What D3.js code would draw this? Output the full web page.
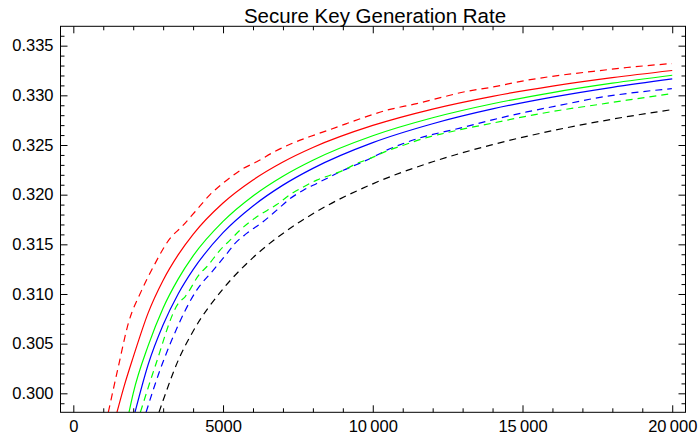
<!DOCTYPE html>
<html>
<head>
<meta charset="utf-8">
<script src="https://cdn.jsdelivr.net/npm/d3@7"></script>
<style>
  body { margin: 0; background: white; }
  text { font-family: "Liberation Sans", Arial, sans-serif; fill: #000; }
</style>
</head>
<body>
<div id="plot"></div>
<script>
// chart data

  var titleText = "Secure Key Generation Rate";

  var xMajorTicks = [0, 5000, 10000, 15000, 20000];
  var yMajorTicks = [0.300, 0.305, 0.310, 0.315, 0.320, 0.325, 0.330, 0.335];

  var redSolid = [[1450,0.29800],[1700,0.30075],[2000,0.30364],[2500,0.30810],[3000,0.31139],
      [3500,0.31394],[4000,0.31601],[5000,0.31916],[6000,0.32148],[7000,0.32329],[8000,0.32475],
      [10000,0.32697],[12000,0.32862],[14000,0.32990],[16000,0.33093],[18000,0.33178],[20000,0.33250]];

  var greenSolid = [[1860,0.29810],[2000,0.30000],[2500,0.30480],[3000,0.30860],[3500,0.31150],
      [4000,0.31384],[5000,0.31731],[6000,0.31987],[7000,0.32186],[8000,0.32347],[10000,0.32593],
      [12000,0.32774],[14000,0.32915],[16000,0.33028],[18000,0.33122],[20000,0.33202]];

  var blueSolid = [[2061,0.29810],[2500,0.30290],[3000,0.30690],[3500,0.31000],[4000,0.31245],
      [5000,0.31617],[6000,0.31886],[7000,0.32096],[8000,0.32265],[10000,0.32524],[12000,0.32714],
      [14000,0.32863],[16000,0.32982],[18000,0.33081],[20000,0.33165]];

  var redDashed = [[1169,0.29810],[1503,0.30268],[1837,0.30704],[2285,0.31039],[2672,0.31274],
      [3230,0.31560],[3621,0.31677],[4065,0.31828],[4566,0.32000],[5124,0.32146],[5678,0.32264],
      [6126,0.32331],[6700,0.32430],[7295,0.32515],[7906,0.32585],[8350,0.32632],[9132,0.32716],
      [9686,0.32776],[10467,0.32850],[11470,0.32917],[12358,0.32984],[12916,0.33026],[14028,0.33085],
      [15143,0.33152],[16256,0.33202],[17368,0.33242],[18483,0.33280],[19987,0.33320]];

  var greenDashed = [[2240,0.29810],[2729,0.30268],[3507,0.30905],[3731,0.30972],[4232,0.31207],
      [4456,0.31274],[4900,0.31442],[5234,0.31542],[5568,0.31643],[6126,0.31777],[6794,0.31900],
      [7238,0.32000],[7682,0.32078],[8129,0.32146],[8574,0.32196],[9018,0.32246],[9466,0.32314],
      [9910,0.32364],[10467,0.32440],[11022,0.32498],[11690,0.32565],[12358,0.32616],[12916,0.32654],
      [14028,0.32722],[15143,0.32790],[16256,0.32850],[17368,0.32900],[18483,0.32951],[19987,0.33018]];

  var blueDashed = [[2430,0.29810],[2896,0.30235],[3287,0.30536],[4121,0.31039],[4676,0.31240],
      [5150,0.31415],[5401,0.31509],[5791,0.31610],[6346,0.31730],[6794,0.31844],[7238,0.31960],
      [7682,0.32045],[8129,0.32113],[8574,0.32180],[9018,0.32246],[9466,0.32304],[9910,0.32364],
      [10467,0.32448],[11022,0.32515],[11690,0.32582],[12358,0.32632],[12916,0.32670],[14028,0.32756],
      [15143,0.32833],[16256,0.32900],[17368,0.32968],[18483,0.33018],[19987,0.33068]];

  var blackDashed = [[2862,0.29810],[3000,0.29930],[3500,0.30330],[4000,0.30625],[5000,0.31051],
      [6000,0.31366],[7000,0.31610],[8000,0.31808],[10000,0.32109],[12000,0.32331],[14000,0.32504],
      [16000,0.32644],[18000,0.32760],[20000,0.32857]];

// layout

  var w = 698;
  var h = 441;
  var frame = {left: 60.5, right: 685.5, top: 26.3, bottom: 412.3};

  var xScale = d3.scaleLinear()
      .domain([-428, 20443])
      .range([frame.left, frame.right]);

  var yScale = d3.scaleLinear()
      .domain([0.29809, 0.33695])
      .range([frame.bottom, frame.top]);

  var xMinor = d3.range(0, 20001, 1000).filter(d => d % 5000 != 0);
  var yMinor = d3.range(299, 337).map(d => d / 1000).filter(d => Math.round(d * 1000) % 5 != 0);

  var svg = d3.select("div#plot")
    .append("svg")
      .attr("width", w)
      .attr("height", h);

  svg.append("rect")
      .attr("width", w)
      .attr("height", h)
      .attr("fill", "white");

  svg.append("clipPath")
      .attr("id", "clip")
    .append("rect")
      .attr("x", frame.left)
      .attr("y", frame.top)
      .attr("width", frame.right - frame.left)
      .attr("height", frame.bottom - frame.top);

// curves

  var line = d3.line()
      .x(d => xScale(d[0]))
      .y(d => yScale(d[1]))
      .curve(d3.curveMonotoneX);

  var series = [
    {data: blackDashed, color: "#000000", dash: "7,5"},
    {data: blueDashed, color: "#0000ff", dash: "7,5"},
    {data: greenDashed, color: "#00ff00", dash: "7,5"},
    {data: redDashed, color: "#ff0000", dash: "7,5"},
    {data: blueSolid, color: "#0000ff", dash: null},
    {data: greenSolid, color: "#00ff00", dash: null},
    {data: redSolid, color: "#ff0000", dash: null}
  ];

  svg.append("g")
      .attr("clip-path", "url(#clip)")
    .selectAll("path")
      .data(series)
    .enter().append("path")
      .attr("d", d => line(d.data))
      .attr("fill", "none")
      .attr("stroke", d => d.color)
      .attr("stroke-width", 1.2)
      .attr("stroke-dasharray", d => d.dash);

// frame and ticks

  var fmt = d => d >= 10000 ? String(Math.floor(d / 1000)) + "\u2009" + "000" : String(d);

  function addAxis(axis, tx, ty) {
    var g = svg.append("g")
        .attr("transform", `translate(${tx}, ${ty})`)
        .call(axis);
    g.select(".domain").remove();
    g.selectAll("line").attr("stroke", "#000");
    g.selectAll("text")
        .attr("font-family", "'Liberation Sans', Arial, sans-serif")
        .attr("font-size", "16.5px")
        .attr("fill", "#000");
    return g;
  }

  addAxis(d3.axisBottom(xScale).tickValues(xMajorTicks).tickSize(-7).tickPadding(8).tickFormat(fmt), 0, frame.bottom);
  addAxis(d3.axisBottom(xScale).tickValues(xMinor).tickSize(-4).tickFormat(""), 0, frame.bottom);
  addAxis(d3.axisTop(xScale).tickValues(xMajorTicks).tickSize(-7).tickFormat(""), 0, frame.top);
  addAxis(d3.axisTop(xScale).tickValues(xMinor).tickSize(-4).tickFormat(""), 0, frame.top);

  addAxis(d3.axisLeft(yScale).tickValues(yMajorTicks).tickSize(-7).tickPadding(7).tickFormat(d3.format(".3f")), frame.left, 0);
  addAxis(d3.axisLeft(yScale).tickValues(yMinor).tickSize(-4).tickFormat(""), frame.left, 0);
  addAxis(d3.axisRight(yScale).tickValues(yMajorTicks).tickSize(-7).tickFormat(""), frame.right, 0);
  addAxis(d3.axisRight(yScale).tickValues(yMinor).tickSize(-4).tickFormat(""), frame.right, 0);

  svg.append("rect")
      .attr("x", frame.left)
      .attr("y", frame.top)
      .attr("width", frame.right - frame.left)
      .attr("height", frame.bottom - frame.top)
      .attr("fill", "none")
      .attr("stroke", "#000")
      .attr("stroke-width", 1);

// title

  svg.append("text")
      .attr("x", (frame.left + frame.right) / 2 + 2)
      .attr("y", 22.5)
      .attr("text-anchor", "middle")
      .attr("font-size", "20.5px")
      .text(titleText);
</script>
</body>
</html>
